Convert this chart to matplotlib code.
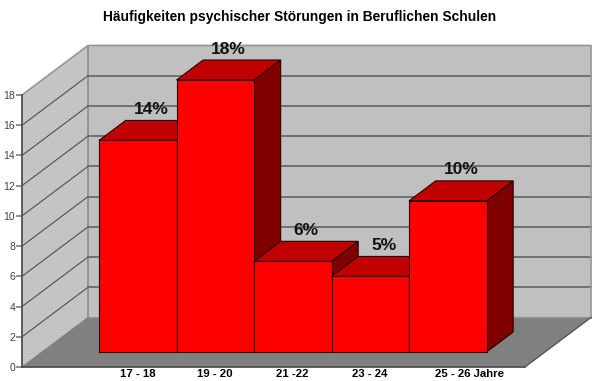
import matplotlib
matplotlib.use("Agg")
import matplotlib.pyplot as plt
from matplotlib.patches import Polygon
from matplotlib.transforms import ScaledTranslation

categories = ["17 - 18", "19 - 20", "21 -22", "23 - 24", "25 - 26 Jahre"]
values = [14, 18, 6, 5, 10]
pct_labels = ["14%", "18%", "6%", "5%", "10%"]
yticks = [0, 2, 4, 6, 8, 10, 12, 14, 16, 18]
title = "Häufigkeiten psychischer Störungen in Beruflichen Schulen"

W, H = 600, 381
plt.rcParams["font.family"] = ["Liberation Sans", "DejaVu Sans"]
fig = plt.figure(figsize=(W / 100, H / 100), dpi=100, facecolor="white")

# axes plot box in pixels: front plane of the floor
L, R, B, T = 22, 525, 367, 95
ax = fig.add_axes([L / W, 1 - B / H, (R - L) / W, (B - T) / H])
ax.patch.set_visible(False)
ppx = 77.5            # px per category
ppv = (B - T) / 18.0  # px per value unit
ax.set_ylim(0, 18)
ax.set_xlim((L - 99) / ppx, (R - 99) / ppx)

DX, DY = 66.0, 49.5   # full depth of chart in px
D0, D1 = 15 / 49.5, 35 / 49.5  # bar front/back depth fractions


def P(x, v, d):
    """category/value/depth -> data coordinates of the oblique projection"""
    return (x + (d - D0) * DX / ppx, v + d * DY / ppv)


def Q(x, v, d):
    return (x + d * DX / ppx, v + d * DY / ppv)


def poly(pts, fc, ec="none", lw=0.0, z=1):
    ax.add_patch(Polygon(pts, closed=True, facecolor=fc, edgecolor=ec, linewidth=lw,
                         zorder=z, clip_on=False, joinstyle="miter"))


x0, x1 = ax.get_xlim()
wallc, sidec, floorc = "#c0c0c0", "#c4c4c4", "#808080"

# left wall, back wall, floor
poly([Q(x0, 0, 0), Q(x0, 18, 0), Q(x0, 18, 1), Q(x0, 0, 1)], sidec, z=1)
poly([Q(x0, 0, 1), Q(x0, 18, 1), Q(x1, 18, 1), Q(x1, 0, 1)], wallc, z=1)
poly([Q(x0, 0, 0), Q(x1, 0, 0), Q(x1, 0, 1), Q(x0, 0, 1)], floorc, z=1.1)

for v in yticks[1:-1]:
    a, b, c = Q(x0, v, 0), Q(x0, v, 1), Q(x1, v, 1)
    ax.plot([a[0], b[0]], [a[1], b[1]], color="#505050", lw=0.8, zorder=1.2, clip_on=False)
    ax.plot([b[0], c[0]], [b[1], c[1]], color="#6a6a6a", lw=1.3, zorder=1.2, clip_on=False)

# wall outlines
a, b, c, d = Q(x0, 18, 0), Q(x0, 18, 1), Q(x1, 18, 1), Q(x1, 0, 1)
ax.plot([a[0], b[0], c[0], d[0]], [a[1], b[1], c[1], d[1]], color="#949494", lw=1.2,
        zorder=1.2, clip_on=False)
e = Q(x0, 0, 1)
ax.plot([b[0], e[0], d[0]], [b[1], e[1], d[1]], color="#8c8c8c", lw=1.2, zorder=1.15, clip_on=False)
f = Q(x1, 0, 0)
ax.plot([f[0], d[0]], [f[1], d[1]], color="#505050", lw=0.9, zorder=1.2, clip_on=False)
g = Q(x0, 0, 0)
ax.plot([g[0], e[0]], [g[1], e[1]], color="#808080", lw=0.8, zorder=1.2, clip_on=False)

# bars
edge = "#280000"
for i, v in enumerate(values):
    z = 2 + i * 0.1
    poly([P(i + 1, 0, D0), P(i + 1, 0, D1), P(i + 1, v, D1), P(i + 1, v, D0)], "#800000", edge, 0.8, z)
    poly([P(i, v, D0), P(i + 1, v, D0), P(i + 1, v, D1), P(i, v, D1)], "#c00000", edge, 0.8, z)
    poly([P(i, 0, D0), P(i + 1, 0, D0), P(i + 1, v, D0), P(i, v, D0)], "#ff0000", edge, 0.8, z)
    px = P(i + 0.5, v, D0)[0] + 13.5 / ppx
    py = P(i, v, D1)[1]
    ax.text(px, py + 3.5 / ppv, pct_labels[i], ha="center", va="bottom", fontsize=12.5,
            fontweight="bold", color="#111111", zorder=5, clip_on=False)

# real axes
for s in ("top", "right"):
    ax.spines[s].set_visible(False)
for s in ("left", "bottom"):
    ax.spines[s].set_color("#505050")
    ax.spines[s].set_linewidth(1.3)
    ax.spines[s].set_zorder(3)
ax.set_yticks(yticks)
ax.tick_params(axis="y", length=4, width=1.1, color="#707070", labelcolor="#404040",
               labelsize=7.5, pad=1)
ax.set_xticks([i + 0.5 for i in range(len(categories))])
ax.set_xticklabels(categories, fontsize=8.2, fontweight="bold", color="black")
ax.tick_params(axis="x", length=0, pad=1.5)
lab = ax.get_xticklabels()[-1]
lab.set_transform(lab.get_transform() + ScaledTranslation(22 / 100, 0, fig.dpi_scale_trans))

fig.text(300 / W, 1 - 17.5 / H, title, ha="center", va="center", fontsize=9.9,
         fontweight="bold", color="black")

fig.savefig("out.png", dpi=100, facecolor="white")
